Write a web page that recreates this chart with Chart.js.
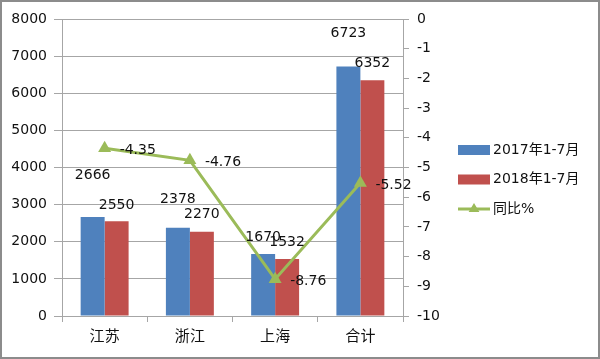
<!DOCTYPE html>
<html><head><meta charset="utf-8">
<script src="https://cdn.jsdelivr.net/npm/chart.js@4"></script>
<style>html,body{margin:0;padding:0;background:#fff}#wrap{width:600px;height:359px;position:relative}</style>
</head><body><div id="wrap"><canvas id="c" width="600" height="359"></canvas></div>
<script>
const categories = ['江苏', '浙江', '上海', '合计'];
const sales2017 = [2666, 2378, 1670, 6723];
const sales2018 = [2550, 2270, 1532, 6352];
const yoyPct = [-4.35, -4.76, -8.76, -5.52];
const seriesNames = ['2017年1-7月', '2018年1-7月', '同比%'];
const leftAxis = { min: 0, max: 8000, step: 1000 };
const rightAxis = { min: -10, max: 0, step: 1 };

const FONT = "'DejaVu Sans', 'Noto Sans CJK SC', sans-serif";
const GRID = '#a6a6a6';
const TEXT = '#111';

const framePlugin = {
  id: 'frame',
  beforeDraw(chart) {
    const c = chart.ctx;
    c.save();
    c.fillStyle = '#fff';
    c.fillRect(0, 0, chart.width, chart.height);
    c.restore();
  },
  afterDraw(chart) {
    const c = chart.ctx;
    c.save();
    c.strokeStyle = '#8c8c8c';
    c.lineWidth = 2;
    c.strokeRect(1, 1, chart.width - 2, chart.height - 2);
    c.restore();
  }
};

const labelPlugin = {
  id: 'valueLabels',
  afterDatasetsDraw(chart, args, opts) {
    const c = chart.ctx;
    c.save();
    c.font = '14px ' + FONT;
    c.fillStyle = TEXT;
    chart.data.datasets.forEach((ds, di) => {
      const meta = chart.getDatasetMeta(di);
      meta.data.forEach((el, i) => {
        const v = ds.data[i];
        if (ds.type === 'line') {
          c.textAlign = 'left';
          c.textBaseline = 'middle';
          c.fillText(String(v), el.x + opts.lineDx, el.y + opts.lineDy);
        } else {
          c.textAlign = 'center';
          c.textBaseline = 'middle';
          c.fillText(String(v), el.x, el.y + opts.barDy[di][i]);
        }
      });
    });
    c.restore();
  }
};

const legendPlugin = {
  id: 'sideLegend',
  afterDraw(chart, args, opts) {
    const c = chart.ctx;
    const x0 = chart.chartArea.right + opts.dx;
    c.save();
    c.font = '14px ' + FONT;
    c.fillStyle = TEXT;
    chart.data.datasets.forEach((ds, i) => {
      const y = opts.y0 + i * opts.gap;
      if (ds.type === 'line') {
        c.strokeStyle = ds.borderColor;
        c.lineWidth = 3;
        c.beginPath();
        c.moveTo(x0, y);
        c.lineTo(x0 + opts.box, y);
        c.stroke();
        c.fillStyle = ds.borderColor;
        const r = 6;
        const cx = x0 + opts.box / 2;
        c.beginPath();
        c.moveTo(cx, y - r);
        c.lineTo(cx + r * 0.9, y + r * 0.5);
        c.lineTo(cx - r * 0.9, y + r * 0.5);
        c.closePath();
        c.fill();
      } else {
        c.fillStyle = ds.backgroundColor;
        c.fillRect(x0, y - 5, opts.box, 10);
      }
      c.fillStyle = TEXT;
      c.textAlign = 'left';
      c.textBaseline = 'middle';
      c.fillText(ds.label, x0 + opts.box + 3, y);
    });
    c.restore();
  }
};

new Chart(document.getElementById('c'), {
  data: {
    labels: categories,
    datasets: [
      { type: 'bar', label: seriesNames[0], data: sales2017, backgroundColor: '#4F81BD', yAxisID: 'y', order: 2,
        categoryPercentage: 0.5625, barPercentage: 1.0 },
      { type: 'bar', label: seriesNames[1], data: sales2018, backgroundColor: '#C0504D', yAxisID: 'y', order: 2,
        categoryPercentage: 0.5625, barPercentage: 1.0 },
      { type: 'line', label: seriesNames[2], data: yoyPct, borderColor: '#9BBB59', backgroundColor: '#9BBB59',
        borderWidth: 3, pointStyle: 'triangle', pointRadius: 7.5, pointBorderWidth: 0, yAxisID: 'y1', order: 0, tension: 0 }
    ]
  },
  options: {
    responsive: false,
    devicePixelRatio: 1,
    animation: false,
    layout: { padding: { top: 19, right: 147, bottom: 0, left: 0 } },
    plugins: {
      legend: { display: false },
      tooltip: { enabled: false },
      valueLabels: { barDy: [[-42, -28, -17, -33], [-16, -17, -17, -17]], lineDx: 15, lineDy: 2 },
      sideLegend: { dx: 55, y0: 150, gap: 29.5, box: 32 }
    },
    scales: {
      x: {
        offset: true,
        grid: { drawOnChartArea: false, drawTicks: true, tickLength: 6, color: GRID, offset: true },
        border: { color: GRID },
        ticks: { font: { family: FONT, size: 15 }, color: TEXT, padding: 6 },
        afterFit(s) { s.height = 43; }
      },
      y: {
        position: 'left',
        min: leftAxis.min, max: leftAxis.max,
        ticks: { stepSize: leftAxis.step, font: { family: FONT, size: 14 }, color: TEXT, padding: 7,
                 callback: (v) => String(v) },
        grid: { color: GRID, tickLength: 8 },
        border: { color: GRID },
        afterFit(s) { s.width = 62; }
      },
      y1: {
        position: 'right',
        min: rightAxis.min, max: rightAxis.max,
        ticks: { stepSize: rightAxis.step, font: { family: FONT, size: 14 }, color: TEXT, padding: 8,
                 callback: (v) => String(v) },
        grid: { drawOnChartArea: false, color: GRID, tickLength: 6 },
        border: { color: GRID },
        afterFit(s) { s.width = 50; }
      }
    }
  },
  plugins: [framePlugin, labelPlugin, legendPlugin]
});
</script>
</body></html>
